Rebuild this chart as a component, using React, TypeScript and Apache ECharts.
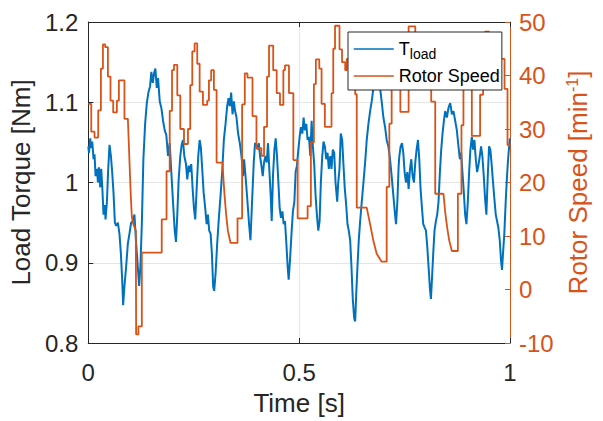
import React, { useEffect, useRef } from 'react';
import * as echarts from 'echarts';

// Load torque samples (time in s, torque in Nm)
const torqueTime = [
  0.0, 0.0017, 0.0047, 0.0071, 0.0095, 0.0125, 0.0149, 0.0173, 0.0206, 0.0229, 0.0253, 0.0284, 0.0307, 0.0331,
  0.0362, 0.0395, 0.0409, 0.0442, 0.0473, 0.0504, 0.0537, 0.0567, 0.0598, 0.0631, 0.0662, 0.0702, 0.074, 0.0773,
  0.0804, 0.0827, 0.0858, 0.0898, 0.0939, 0.0976, 0.1017, 0.1057, 0.1095, 0.1135, 0.1175, 0.1206, 0.1236, 0.127,
  0.1307, 0.1348, 0.1388, 0.1426, 0.1466, 0.1496, 0.153, 0.156, 0.1591, 0.1624, 0.1655, 0.1695, 0.1733, 0.1773,
  0.1813, 0.1851, 0.1891, 0.1931, 0.1969, 0.2009, 0.205, 0.208, 0.2111, 0.2144, 0.2182, 0.2215, 0.2246, 0.2277,
  0.2317, 0.2348, 0.2381, 0.2411, 0.2442, 0.2475, 0.2506, 0.2537, 0.257, 0.2608, 0.2641, 0.2671, 0.2702, 0.2735,
  0.2773, 0.2806, 0.2837, 0.2868, 0.2901, 0.2931, 0.2962, 0.2986, 0.3019, 0.3057, 0.3097, 0.3137, 0.3175, 0.3215,
  0.3255, 0.3293, 0.3326, 0.3357, 0.3388, 0.3421, 0.3452, 0.3482, 0.3515, 0.3553, 0.3593, 0.3624, 0.3648, 0.3671,
  0.3695, 0.3735, 0.3775, 0.3813, 0.3846, 0.3884, 0.3924, 0.3955, 0.3988, 0.4019, 0.4043, 0.4073, 0.4106, 0.4137,
  0.4168, 0.4201, 0.4232, 0.4262, 0.4296, 0.4326, 0.435, 0.4381, 0.4414, 0.4444, 0.4475, 0.4508, 0.4539, 0.457,
  0.4603, 0.4634, 0.4664, 0.4697, 0.4728, 0.4752, 0.4783, 0.4823, 0.4853, 0.4887, 0.4917, 0.4948, 0.4981, 0.5012,
  0.5043, 0.5076, 0.5106, 0.5137, 0.517, 0.5201, 0.5232, 0.5265, 0.5296, 0.5326, 0.5359, 0.539, 0.5421, 0.5454,
  0.5485, 0.5515, 0.5548, 0.5579, 0.561, 0.5643, 0.5674, 0.5704, 0.5738, 0.5768, 0.5799, 0.5832, 0.5863, 0.5903,
  0.5927, 0.5957, 0.5988, 0.6021, 0.6052, 0.6083, 0.6116, 0.6147, 0.6177, 0.621, 0.6241, 0.6272, 0.6305, 0.6329,
  0.6352, 0.6383, 0.6414, 0.6447, 0.6485, 0.6525, 0.6565, 0.6603, 0.6643, 0.6683, 0.6721, 0.6761, 0.6801, 0.6839,
  0.6879, 0.6919, 0.6957, 0.6998, 0.7038, 0.7076, 0.7116, 0.7156, 0.7194, 0.7234, 0.7274, 0.7298, 0.7329, 0.7359,
  0.7376, 0.7407, 0.744, 0.747, 0.7501, 0.7534, 0.7565, 0.7596, 0.7629, 0.766, 0.769, 0.7723, 0.7754, 0.7785,
  0.7818, 0.7849, 0.7879, 0.7913, 0.7943, 0.7974, 0.8007, 0.8038, 0.8069, 0.8102, 0.8125, 0.8149, 0.818, 0.821,
  0.8243, 0.8274, 0.8305, 0.8338, 0.8369, 0.84, 0.8433, 0.8463, 0.8504, 0.8541, 0.8582, 0.8622, 0.866, 0.87,
  0.874, 0.8778, 0.8811, 0.8842, 0.8872, 0.8905, 0.8936, 0.8967, 0.9, 0.9031, 0.9061, 0.9095, 0.9125, 0.9156,
  0.9189, 0.922, 0.9251, 0.9284, 0.9314, 0.9345, 0.9378, 0.9409, 0.944, 0.9473, 0.9504, 0.9534, 0.9567, 0.9598,
  0.9629, 0.9662, 0.9693, 0.9723, 0.9757, 0.9787, 0.9811, 0.9835, 0.9865, 0.9898, 0.9929, 0.996, 0.9993, 1.0,
];
const torqueValue = [
  1.045, 1.037, 1.055, 1.043, 1.051, 1.029, 1.035, 1.008, 1.017, 1.0, 1.019, 0.994, 1.017, 0.996,
  0.96, 0.972, 0.954, 0.976, 1.017, 1.047, 1.033, 1.013, 0.988, 0.95, 0.946, 0.95, 0.936, 0.912,
  0.879, 0.847, 0.871, 0.895, 0.924, 0.936, 0.95, 0.952, 0.96, 0.924, 0.895, 0.871, 0.895, 0.948,
  1.029, 1.073, 1.099, 1.112, 1.12, 1.138, 1.124, 1.136, 1.142, 1.118, 1.13, 1.101, 1.093, 1.077,
  1.065, 1.059, 1.033, 1.049, 1.013, 0.976, 0.94, 0.926, 0.96, 1.004, 1.033, 1.047, 1.053, 1.033,
  1.023, 1.004, 1.021, 1.013, 1.023, 0.992, 0.968, 0.954, 0.992, 1.033, 1.053, 1.043, 1.017, 0.988,
  0.968, 0.948, 0.96, 0.94, 0.936, 0.912, 0.87, 0.865, 0.887, 0.924, 0.956, 0.984, 1.013, 1.053,
  1.073, 1.095, 1.105, 1.095, 1.112, 1.085, 1.101, 1.089, 1.081, 1.061, 1.049, 1.037, 1.025, 1.008,
  1.029, 1.004, 0.976, 0.948, 0.928, 0.976, 1.025, 1.049, 1.047, 1.041, 1.049, 1.033, 1.021, 1.008,
  1.025, 1.033, 1.025, 1.049, 1.013, 0.984, 0.952, 1.01, 1.041, 1.055, 1.033, 1.0, 0.968, 0.956,
  0.964, 0.948, 0.952, 0.924, 0.895, 0.879, 0.903, 0.94, 0.964, 0.976, 1.013, 1.021, 1.041, 1.057,
  1.069, 1.061, 1.081, 1.065, 1.073, 1.053, 1.057, 1.033, 1.077, 1.045, 1.021, 0.984, 0.96, 0.94,
  0.952, 1.0, 1.033, 1.051, 1.045, 1.029, 1.037, 1.017, 1.033, 1.017, 1.041, 1.037, 1.0, 0.976,
  1.0, 1.017, 1.061, 1.053, 1.021, 0.992, 0.972, 0.948, 0.94, 0.928, 0.895, 0.855, 0.831, 0.827,
  0.859, 0.895, 0.928, 0.952, 0.976, 1.0, 1.025, 1.053, 1.073, 1.089, 1.101, 1.118, 1.122, 1.125,
  1.13, 1.118, 1.101, 1.081, 1.069, 1.053, 1.045, 1.029, 1.008, 0.984, 0.96, 0.948, 0.976, 1.02,
  1.033, 1.045, 1.049, 1.037, 1.013, 1.0, 1.013, 0.992, 1.017, 1.029, 1.008, 1.0, 1.025, 1.041,
  1.053, 1.029, 0.992, 0.968, 0.948, 0.944, 0.94, 0.92, 0.895, 0.867, 0.855, 0.879, 0.912, 0.94,
  0.952, 0.96, 0.976, 1.013, 1.041, 1.061, 1.077, 1.089, 1.081, 1.093, 1.099, 1.085, 1.089, 1.077,
  1.065, 1.045, 1.029, 1.037, 1.013, 0.988, 0.96, 0.948, 0.976, 1.013, 1.041, 1.057, 1.041, 1.053,
  1.029, 1.013, 1.021, 1.033, 1.045, 1.033, 1.008, 0.98, 0.96, 1.008, 1.045, 1.041, 1.021, 1.0,
  0.98, 0.96, 0.952, 0.944, 0.928, 0.903, 0.891, 0.912, 0.936, 0.976, 1.008, 1.033, 1.053, 1.055,
];

// Rotor speed (time in s, speed in min^-1); mode 's' = step to value, 'l' = linear to value
const speedTime = [
  0.0, 0.0071, 0.0149, 0.0236, 0.03, 0.0348, 0.0402, 0.0466, 0.0527, 0.0591, 0.0678, 0.0726, 0.0858, 0.0939,
  0.0963, 0.0986, 0.1009, 0.1033, 0.1064, 0.1128, 0.1135, 0.1189, 0.127, 0.1742, 0.1856, 0.1931, 0.1986, 0.2033,
  0.2111, 0.2182, 0.227, 0.2364, 0.2418, 0.2466, 0.2522, 0.2584, 0.2641, 0.2719, 0.282, 0.2861, 0.2915, 0.2979,
  0.3043, 0.3184, 0.3208, 0.3232, 0.327, 0.331, 0.3374, 0.3539, 0.3648, 0.3712, 0.3775, 0.3894, 0.3988, 0.4106,
  0.4168, 0.4239, 0.4286, 0.4385, 0.4468, 0.4546, 0.4626, 0.4664, 0.4759, 0.4863, 0.4965, 0.5201, 0.5279, 0.535,
  0.5397, 0.5478, 0.5532, 0.561, 0.5768, 0.5809, 0.5851, 0.5957, 0.6017, 0.6092, 0.613, 0.6241, 0.6329, 0.6366,
  0.6603, 0.6683, 0.6761, 0.6839, 0.6957, 0.7076, 0.7139, 0.7194, 0.7246, 0.74, 0.7596, 0.7754, 0.8132, 0.8227,
  0.8423, 0.8463, 0.8511, 0.8558, 0.8622, 0.8764, 0.8849, 0.8896, 0.9095, 0.9291, 0.9362, 0.9409, 0.9504, 0.9681,
  0.974, 0.9787, 0.987, 0.9941, 1.0,
];
const speedValue = [
  34.7, 29.5, 28.4, 33.5, 41.3, 45.8, 45.3, 39.8, 35.3, 33.1, 35.3, 39.1, 31.9, 31.9,
  27, 22, 17.5, 13.6, 12.3, 11, -8.4, -6.9, 6.9, 13.1, 22.1, 33.4, 41, 42,
  36.3, 30, 27.2, 30, 38.2, 44.5, 46, 42.2, 37, 34.5, 35.3, 39.1, 41, 37.3,
  23.7, 23.7, 20.3, 17.6, 14, 11, 8.7, 13.3, 34.6, 40.4, 39.6, 32.4, 26.4, 25,
  30.4, 39.8, 45.6, 41, 36.7, 34.5, 41, 41.9, 36.7, 24.2, 13.3, 15.6, 27.5, 38.4,
  43, 41.3, 34.7, 30.4, 36.7, 45, 49.3, 44.9, 42.5, 41, 43.1, 45, 36.5, 15.3,
  15.3, 12.2, 9.1, 6.7, 5.2, 19.2, 31, 37.6, 44, 33.2, 49.2, 44, 35.1, 17.9,
  17.9, 14.5, 11.5, 9.2, 7.2, 17.9, 30.7, 40, 28.7, 36.4, 44, 48.2, 44, 37.5,
  44.3, 43.1, 37.5, 27, 27,
];
const speedMode = [
  's', 's', 's', 's', 's', 's', 's', 's', 's', 's', 's', 's', 's', 'l',
  'l', 'l', 'l', 'l', 'l', 'l', 's', 's', 's', 's', 's', 's', 's', 's',
  's', 's', 's', 's', 's', 's', 's', 's', 's', 's', 's', 's', 's', 's',
  's', 'l', 'l', 'l', 'l', 'l', 'l', 's', 's', 's', 's', 's', 's', 's',
  's', 's', 's', 's', 's', 's', 's', 's', 's', 's', 's', 's', 's', 's',
  's', 's', 's', 's', 's', 's', 's', 's', 's', 's', 's', 's', 's', 's',
  'l', 'l', 'l', 'l', 'l', 's', 's', 's', 's', 's', 's', 's', 's', 's',
  'l', 'l', 'l', 'l', 'l', 's', 's', 's', 's', 's', 's', 's', 's', 's',
  's', 's', 's', 's', 'l',
];

const xTicks = [0, 0.5, 1];
const torqueTicks = ['0.8', '0.9', '1', '1.1', '1.2'];
const speedTicks = ['-10', '0', '10', '20', '30', '40', '50'];

const FONT = 'Liberation Sans, Arial, sans-serif';
const AX = '#262626';
const BLUE = '#0072BD';
const ORANGE = '#D95319';
const TICK_FS = 24;
const NAME_FS = 26;

function buildSpeed(): number[][] {
  const pts: number[][] = [[speedTime[0], speedValue[0]]];
  for (let i = 1; i < speedTime.length; i++) {
    if (speedMode[i] === 's') pts.push([speedTime[i], speedValue[i - 1]]);
    pts.push([speedTime[i], speedValue[i]]);
  }
  return pts;
}

export default function App() {
  const ref = useRef<HTMLDivElement>(null);
  useEffect(() => {
    if (!ref.current) return;
    const chart = echarts.init(ref.current, undefined, { renderer: 'svg' });
    const torqueData = torqueTime.map((t, i) => [t, torqueValue[i]]);
    const speedData = buildSpeed();
    const option: any = {
      animation: false,
      backgroundColor: '#ffffff',
      textStyle: { fontFamily: FONT },
      grid: { left: 87, right: 93, top: 22, bottom: 69, containLabel: false },
      legend: {
        orient: 'vertical',
        left: 348,
        top: 32,
        z: 10,
        padding: [5, 2, 5, 5],
        itemGap: 6,
        itemWidth: 40,
        itemHeight: 14,
        backgroundColor: '#ffffff',
        borderColor: AX,
        borderWidth: 1,
        borderRadius: 0,
        itemStyle: { opacity: 0 },
        lineStyle: { width: 1.6 },
        data: ['T_load', 'Rotor Speed'],
        formatter: (n: string) => (n === 'T_load' ? '{m|T}{s|load}' : '{m|' + n + '}'),
        textStyle: {
          fontFamily: FONT,
          color: '#000',
          fontSize: 18,
          rich: {
            m: { fontSize: 18, fontFamily: FONT, color: '#000', lineHeight: 22 },
            s: { fontSize: 14, fontFamily: FONT, color: '#000', padding: [10, 0, 0, 0], lineHeight: 22 },
          },
        },
      },
      xAxis: [
        {
          type: 'value',
          position: 'bottom',
          min: xTicks[0],
          max: xTicks[xTicks.length - 1],
          interval: xTicks[1] - xTicks[0],
          name: 'Time [s]',
          nameLocation: 'middle',
          nameGap: 47,
          nameTextStyle: { fontSize: NAME_FS, color: AX, fontFamily: FONT, verticalAlign: 'top' },
          axisLine: { show: true, onZero: false, lineStyle: { color: AX, width: 1 } },
          axisTick: { show: true, inside: true, length: 5, lineStyle: { color: AX } },
          axisLabel: {
            fontSize: TICK_FS, color: AX, margin: 17, fontFamily: FONT,
            showMinLabel: true, showMaxLabel: true,
            formatter: (v: number) => String(Math.round(v * 10) / 10),
          },
          splitLine: { show: true, lineStyle: { color: '#e6e6e6', width: 1 } },
        },
        {
          type: 'value',
          position: 'top',
          min: xTicks[0],
          max: xTicks[xTicks.length - 1],
          interval: xTicks[1] - xTicks[0],
          axisLine: { show: true, onZero: false, lineStyle: { color: AX, width: 1 } },
          axisTick: { show: true, inside: true, length: 5, lineStyle: { color: AX } },
          axisLabel: { show: false },
          splitLine: { show: false },
        },
      ],
      yAxis: [
        {
          type: 'value',
          position: 'left',
          min: Number(torqueTicks[0]),
          max: Number(torqueTicks[torqueTicks.length - 1]),
          interval: 0.1,
          name: 'Load Torque [Nm]',
          nameLocation: 'middle',
          nameRotate: 90,
          nameGap: 47,
          nameTextStyle: { fontSize: NAME_FS, color: AX, fontFamily: FONT },
          axisLine: { show: true, onZero: false, lineStyle: { color: AX, width: 1 } },
          axisTick: { show: true, inside: true, length: 5, lineStyle: { color: AX } },
          axisLabel: {
            fontSize: TICK_FS, color: AX, margin: 10, fontFamily: FONT,
            showMinLabel: true, showMaxLabel: true,
            formatter: (v: number) => String(Math.round(v * 10) / 10),
          },
          splitLine: { show: true, lineStyle: { color: '#e6e6e6', width: 1 } },
        },
        {
          type: 'value',
          position: 'right',
          min: Number(speedTicks[0]),
          max: Number(speedTicks[speedTicks.length - 1]),
          interval: 10,
          name: 'Rotor Speed [min{sup|-1}]',
          nameLocation: 'middle',
          nameRotate: 90,
          nameGap: 50,
          nameTextStyle: {
            fontSize: NAME_FS, color: ORANGE, fontFamily: FONT,
            rich: { sup: { fontSize: 16, color: ORANGE, fontFamily: FONT, verticalAlign: 'top', padding: [0, 0, 10, 0] } },
          },
          axisLine: { show: true, onZero: false, lineStyle: { color: ORANGE, width: 1 } },
          axisTick: { show: true, inside: true, length: 5, lineStyle: { color: ORANGE } },
          axisLabel: {
            fontSize: TICK_FS, color: ORANGE, margin: 9, fontFamily: FONT,
            showMinLabel: true, showMaxLabel: true,
          },
          splitLine: { show: false },
        },
      ],
      series: [
        {
          name: 'T_load',
          type: 'line',
          xAxisIndex: 0,
          yAxisIndex: 0,
          data: torqueData,
          symbol: 'none',
          showSymbol: false,
          lineStyle: { color: BLUE, width: 2 },
          itemStyle: { color: BLUE },
          z: 2,
        },
        {
          name: 'Rotor Speed',
          type: 'line',
          xAxisIndex: 0,
          yAxisIndex: 1,
          data: speedData,
          symbol: 'none',
          showSymbol: false,
          lineStyle: { color: ORANGE, width: 1.8 },
          itemStyle: { color: ORANGE },
          z: 3,
        },
      ],
    };
    chart.setOption(option);
    return () => chart.dispose();
  }, []);
  return (
    <div
      ref={ref}
      style={{ position: 'fixed', left: 0, top: 0, width: 603, height: 421, background: '#fff' }}
    />
  );
}
